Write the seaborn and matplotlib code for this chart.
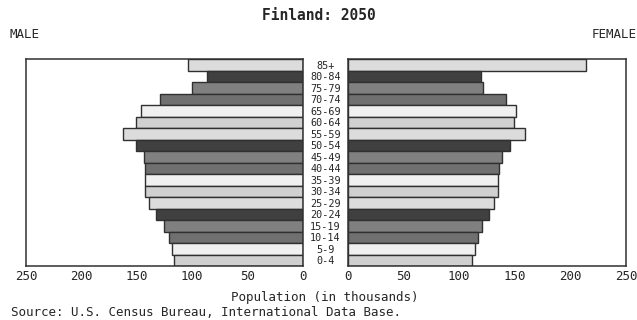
import matplotlib
matplotlib.use('Agg')
import matplotlib.pyplot as plt
import seaborn as sns
import pandas as pd

ages = ['85+', '80-84', '75-79', '70-74', '65-69', '60-64', '55-59', '50-54', '45-49',
        '40-44', '35-39', '30-34', '25-29', '20-24', '15-19', '10-14', '5-9', '0-4']
male = [103.5, 86.6, 100.2, 128.8, 145.9, 150.7, 162.2, 150.4, 143.8,
        142.3, 142.3, 142.9, 139.3, 132.4, 125.5, 120.9, 118.5, 116.4]
female = [213.6, 120.0, 121.2, 142.0, 151.0, 149.5, 159.1, 145.3, 138.4,
          135.9, 134.7, 135.0, 131.4, 126.9, 120.9, 116.7, 114.3, 111.6]

# grey shades repeat every six age groups
shades = ['#dcdcdc', '#404040', '#808080', '#707070', '#f0f0f0', '#d0d0d0']
colors = {a: shades[i % 6] for i, a in enumerate(ages)}

df = pd.DataFrame({'age': ages, 'male': male, 'female': female})

sns.set_style('white')
plt.rcParams['font.family'] = ['DejaVu Sans Mono']
plt.rcParams['font.size'] = 9

fig = plt.figure(figsize=(6.37, 3.2), dpi=100)
axl = fig.add_axes([26 / 637, 54 / 320, 277 / 637, 207 / 320])
axr = fig.add_axes([348 / 637, 54 / 320, 278 / 637, 207 / 320])

edge = '#303030'
for ax, col in [(axl, 'male'), (axr, 'female')]:
    sns.barplot(data=df, x=col, y='age', hue='age', palette=colors, order=ages,
                legend=False, width=1.0, edgecolor=edge, linewidth=1.0, ax=ax)
    ax.set_xlim(0, 250)
    ax.set_xticks(range(0, 251, 50))
    ax.tick_params(axis='x', length=0, pad=3, labelsize=9)
    ax.set_xlabel('')
    ax.set_ylabel('')
    for s in ax.spines.values():
        s.set_color(edge)
        s.set_linewidth(1.1)
        s.set_visible(True)

axl.invert_xaxis()
# age labels sit centred in the gap between the two panels
axl.yaxis.tick_right()
axl.tick_params(axis='y', length=0, pad=22.5 * 72 / 100, labelsize=7.3)
for lab in axl.get_yticklabels():
    lab.set_horizontalalignment('center')
axr.set_yticks([])

fig.text(0.5, 1 - 16 / 320, 'Finland: 2050', ha='center', va='center',
         fontsize=10.5, fontweight='bold')
fig.text(10 / 637, 1 - 34 / 320, 'MALE', ha='left', va='center')
fig.text(1.0, 1 - 34 / 320, 'FEMALE', ha='right', va='center')
fig.text(325 / 637, 1 - 297 / 320, 'Population (in thousands)', ha='center', va='center')
fig.text(11 / 637, 1 - 313 / 320, 'Source: U.S. Census Bureau, International Data Base.',
         ha='left', va='center')

plt.savefig('out.png', dpi=100)
